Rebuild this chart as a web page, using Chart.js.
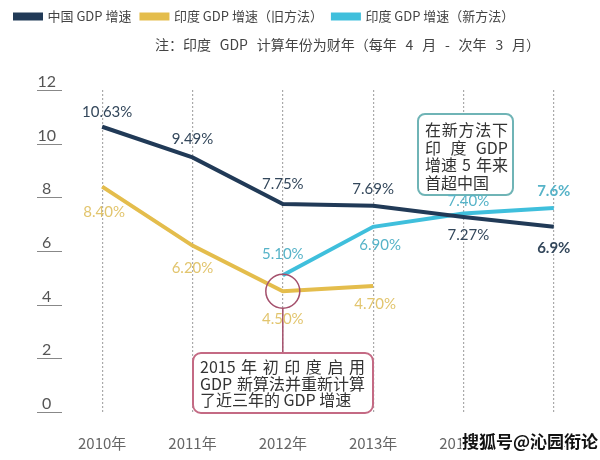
<!DOCTYPE html>
<html>
<head>
<meta charset="utf-8">
<script src="https://cdn.jsdelivr.net/npm/chart.js@4.4.1/dist/chart.umd.min.js"></script>
<style>
  html, body { margin: 0; padding: 0; background: #fff; }
  #wrap { width: 600px; height: 460px; }
</style>
</head>
<body>
<div id="wrap"><canvas id="gdpChart" width="600" height="460"></canvas></div>
<script>
// Data
const years = ['2010年', '2011年', '2012年', '2013年', '2014年', '2015年'];
const chinaGrowth = [10.63, 9.49, 7.75, 7.69, 7.27, 6.9];
const indiaOld = [8.40, 6.20, 4.50, 4.70, null, null];
const indiaNew = [null, null, 5.10, 6.90, 7.40, 7.6];

const seriesNames = ['中国 GDP 增速', '印度 GDP 增速（旧方法）', '印度 GDP 增速（新方法）'];
const noteText = '注：印度 GDP 计算年份为财年（每年 4 月 - 次年 3 月）';
const calloutNew = ['在新方法下', '印 度 GDP', '增速 5 年来', '首超中国'];
const calloutOld = ['2015 年 初 印 度 启 用', 'GDP 新算法并重新计算', '了近三年的 GDP 增速'];
const watermark = '搜狐号@沁园衔论';

const FONT = 'Lato, "Noto Sans CJK SC", sans-serif';
const CJK = '"Noto Sans CJK SC", sans-serif';
const colors = ['#213a57', '#e4bd4c', '#3fbfdc'];
const labelColors = ['#33475b', '#e2c56e', '#56b3c8'];

// vertical offset of each value label from its point (negative = above)
const labelDy = [
    [-15, -18, -20, -16, 18, 21],
    [26, 23, 28, 18, 0, 0],
    [0, 0, -21, 18, -12, -17]
];
const labelDx = [
    [5, 0, 0, 0, 5, 0],
    [2, 0, 0, 2, 0, 0],
    [0, 0, 0, 7, 5, 0]
];

Chart.defaults.font.family = FONT;

// split on spaces, or by character when there are none, then spread to width
function drawJustified(ctx, text, x, y, width) {
    const parts = text.indexOf(' ') >= 0 ? text.split(' ') : Array.from(text);
    const total = parts.reduce((s, p) => s + ctx.measureText(p).width, 0);
    const gap = parts.length > 1 ? (width - total) / (parts.length - 1) : 0;
    let cx = x;
    parts.forEach(p => {
        ctx.fillText(p, cx, y);
        cx += ctx.measureText(p).width + gap;
    });
}

function roundBox(ctx, x, y, w, h, r) {
    ctx.beginPath();
    ctx.moveTo(x + r, y);
    ctx.arcTo(x + w, y, x + w, y + h, r);
    ctx.arcTo(x + w, y + h, x, y + h, r);
    ctx.arcTo(x, y + h, x, y, r);
    ctx.arcTo(x, y, x + w, y, r);
    ctx.closePath();
}

// leave room under the legend for the note line
const legendRoom = {
    id: 'legendRoom',
    beforeInit(chart) {
        const fit = chart.legend.fit;
        chart.legend.fit = function() {
            fit.call(this);
            this.height = 90;
        };
    }
};

const decorations = {
    id: 'decorations',
    afterDraw(chart) {
        const ctx = chart.ctx;
        const yScale = chart.scales.y;
        ctx.save();

        // note under the legend
        ctx.fillStyle = '#444';
        ctx.font = '14px ' + CJK;
        ctx.textAlign = 'left';
        ctx.textBaseline = 'middle';
        drawJustified(ctx, noteText, 155, 45, 385);

        // short rules under the y tick labels
        ctx.strokeStyle = '#888';
        ctx.lineWidth = 1;
        yScale.ticks.forEach(t => {
            const py = Math.round(yScale.getPixelForValue(t.value)) + 0.5;
            ctx.beginPath();
            ctx.moveTo(37, py);
            ctx.lineTo(62, py);
            ctx.stroke();
        });

        // circle on the 2012 old-method point and its callout
        const mark = chart.getDatasetMeta(1).data[2];
        ctx.strokeStyle = '#a4506c';
        ctx.lineWidth = 1.5;
        ctx.beginPath();
        ctx.arc(mark.x, mark.y, 17, 0, Math.PI * 2);
        ctx.stroke();
        ctx.beginPath();
        ctx.moveTo(mark.x, mark.y + 17);
        ctx.lineTo(mark.x, 353);
        ctx.stroke();

        ctx.fillStyle = '#fff';
        ctx.strokeStyle = '#c46a84';
        ctx.lineWidth = 2;
        roundBox(ctx, 193, 353, 180, 60, 8);
        ctx.fill();
        ctx.stroke();

        ctx.fillStyle = '#333';
        ctx.font = '16px ' + CJK;
        calloutOld.forEach((line, k) => {
            if (k < calloutOld.length - 1) drawJustified(ctx, line, 200, 367 + k * 16.5, 165);
            else ctx.fillText(line, 200, 367 + k * 16.5);
        });

        // callout for the new method
        ctx.fillStyle = '#fff';
        ctx.strokeStyle = '#6fb4b6';
        roundBox(ctx, 418, 114, 95, 81, 7);
        ctx.fill();
        ctx.stroke();
        ctx.fillStyle = '#333';
        calloutNew.forEach((line, k) => {
            if (k < calloutNew.length - 1) drawJustified(ctx, line, 425, 130 + k * 17.7, 83);
            else ctx.fillText(line, 425, 130 + k * 17.7);
        });

        // value labels
        ctx.textAlign = 'center';
        chart.data.datasets.forEach((ds, i) => {
            const meta = chart.getDatasetMeta(i);
            const last = ds.data.length - 1;
            meta.data.forEach((pt, j) => {
                const v = ds.data[j];
                if (v === null) return;
                const isLast = j === last;
                ctx.font = (isLast ? 'bold ' : '') + '15px ' + FONT;
                ctx.fillStyle = labelColors[i];
                const txt = (isLast ? v.toFixed(1) : v.toFixed(2)) + '%';
                ctx.fillText(txt, pt.x + labelDx[i][j], pt.y + labelDy[i][j]);
            });
        });

        // watermark
        ctx.textAlign = 'left';
        ctx.font = 'bold 17px ' + CJK;
        ctx.lineWidth = 3;
        ctx.strokeStyle = '#fff';
        ctx.fillStyle = '#111';
        ctx.strokeText(watermark, 462, 442);
        ctx.fillText(watermark, 462, 442);

        ctx.restore();
    }
};

const ctx = document.getElementById('gdpChart').getContext('2d');
const gdpChart = new Chart(ctx, {
    type: 'line',
    data: {
        labels: years,
        datasets: [chinaGrowth, indiaOld, indiaNew].map((vals, i) => ({
            label: seriesNames[i],
            data: vals,
            borderColor: colors[i],
            backgroundColor: colors[i],
            borderWidth: 4,
            pointRadius: 0,
            tension: 0,
            fill: false
        }))
    },
    options: {
        responsive: false,
        animation: false,
        layout: { padding: { left: 5, right: 1, top: 0, bottom: 8 } },
        plugins: {
            legend: {
                position: 'top',
                align: 'start',
                labels: {
                    boxWidth: 26,
                    boxHeight: 4,
                    padding: 10,
                    color: '#444',
                    font: { size: 13, family: CJK }
                }
            },
            tooltip: { enabled: false }
        },
        scales: {
            x: {
                offset: true,
                grid: {
                    offset: false,
                    color: '#aaa',
                    lineWidth: 1.2,
                    drawTicks: false
                },
                border: { display: false, dash: [2, 2] },
                afterFit: function(scale) { scale.height = 40; },
                ticks: { color: '#666', font: { size: 15, family: CJK }, padding: 22 }
            },
            y: {
                min: 0,
                max: 12,
                grid: { display: false, drawTicks: false },
                border: { display: false },
                afterFit: function(scale) { scale.width = 52; },
                ticks: {
                    stepSize: 2,
                    align: 'end',
                    crossAlign: 'center',
                    padding: 1,
                    color: '#555',
                    font: { size: 16 }
                }
            }
        }
    },
    plugins: [legendRoom, decorations]
});
</script>
</body>
</html>
